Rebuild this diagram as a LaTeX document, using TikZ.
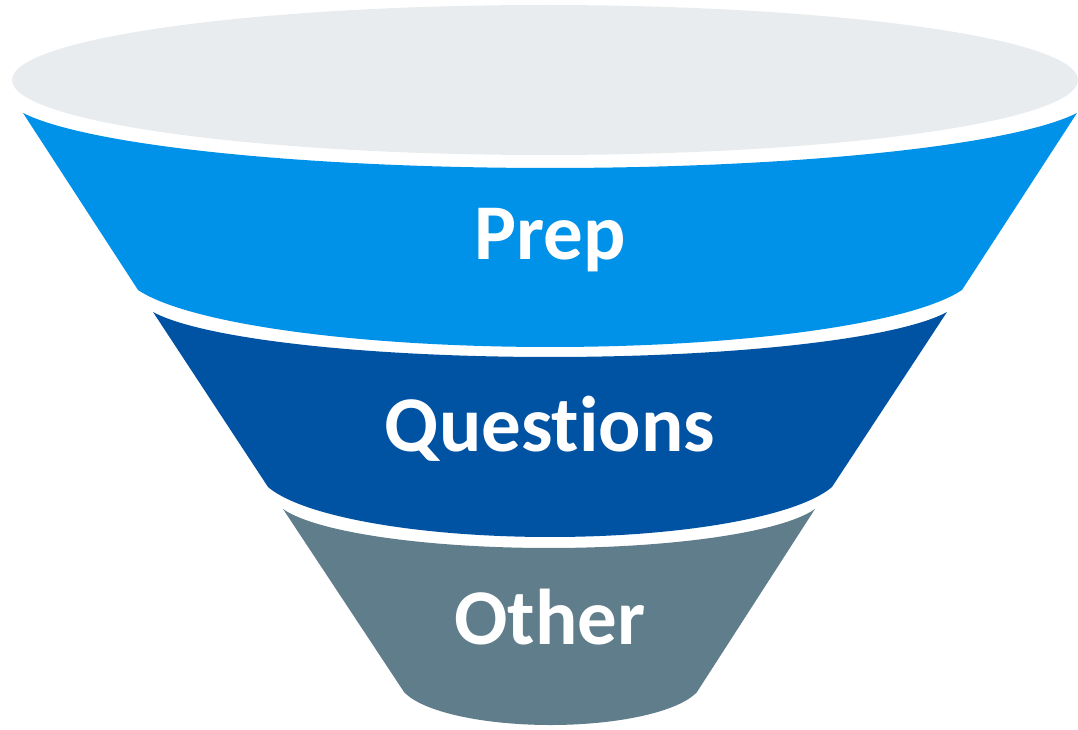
\documentclass[tikz,border=0pt]{standalone}
\usepackage{fontspec}
\setmainfont{Carlito}[Ligatures=NoCommon]
\definecolor{topgray}{HTML}{E9ECEF}
\definecolor{prepblue}{HTML}{0091E9}
\definecolor{qblue}{HTML}{0052A2}
\definecolor{othergray}{HTML}{607D8B}
\tikzset{
  lbl/.style={text=white, font=\bfseries\fontsize{79}{81}\selectfont, inner sep=0pt, anchor=base},
}
% \bandpath{ye_top}{cx_top}{w_top}{d_top}{ye_bot}{cx_bot}{w_bot}{d_bot}{colour}
% arc with alpha = 15 deg: rx = w/cos15, ry = d/(1-sin15), cy = ye - ry*sin15
\newcommand{\bandpath}[9]{%
  \fill[#9] plot[domain=165:15, samples=80, variable=\t]
      ({#2+(#3/0.96593)*cos(\t)}, {#1-(#4/0.74118)*0.25882+(#4/0.74118)*sin(\t)})
   -- plot[domain=15:165, samples=80, variable=\t]
      ({#6+(#7/0.96593)*cos(\t)}, {#5-(#8/0.74118)*0.25882+(#8/0.74118)*sin(\t)})
   -- cycle;}
\begin{document}
\begin{tikzpicture}[x=1pt, y=-1pt]
\useasboundingbox (0,0) rectangle (1078,730);
% top opening
\fill[topgray] (545,80) ellipse[x radius=533pt, y radius=75pt];
% bands
\bandpath{113}{550}{527}{55}{290}{550}{412}{57}{prepblue}
\bandpath{312}{550}{397}{45}{487}{550}{282}{50}{qblue}
\bandpath{509}{549}{266}{39}{692}{550.5}{146.5}{33}{othergray}
% labels
\node[lbl] (prep) at (550,259) {Prep};
\node[lbl] (questions) at (550,451) {Quest\kern0pt ions};
\node[lbl] (other) at (550,644) {Other};
\end{tikzpicture}
\end{document}
